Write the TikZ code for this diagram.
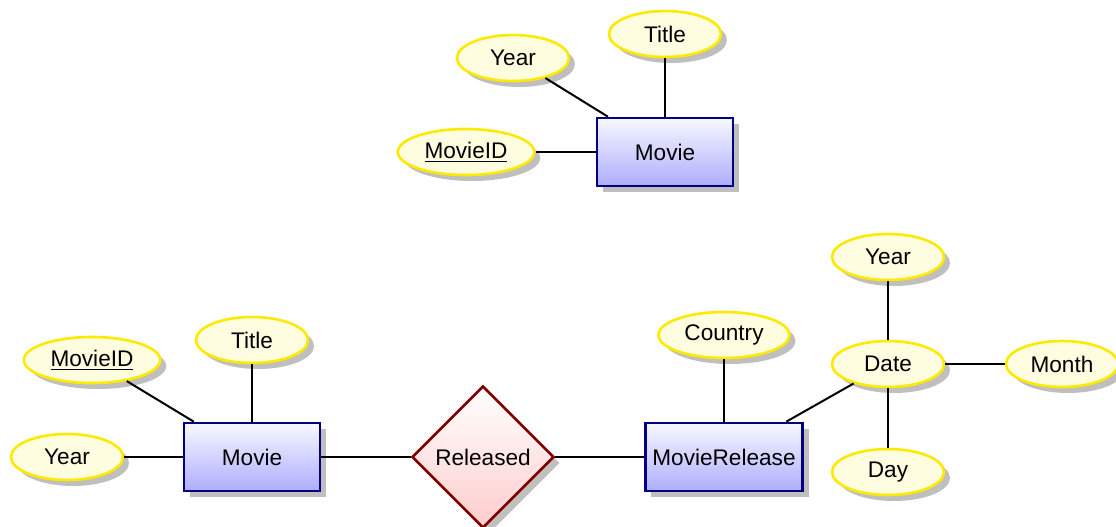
\documentclass[tikz,border=0pt]{standalone}
\usepackage{fontspec}
\setmainfont{Liberation Sans}
\usetikzlibrary{shapes.geometric,shadows}

\begin{document}
\begin{tikzpicture}[x=0.5pt,y=-0.5pt,font=\fontsize{11.3}{13}\selectfont,
  entity/.style={draw=blue!50!black,line width=1.3pt,top color=blue!3,bottom color=blue!32,
    minimum width=68pt,minimum height=34pt,inner xsep=3.5pt,
    drop shadow={shadow xshift=3pt,shadow yshift=-3pt,fill=black!25,opacity=1}},
  attr/.style={ellipse,draw=yellow!92!orange,line width=1.3pt,fill=yellow!12,
    minimum width=56pt,minimum height=23pt,inner xsep=3.4pt,inner ysep=1pt,
    drop shadow={shadow xshift=3pt,shadow yshift=-3pt,fill=black!25,opacity=1}},
  rel/.style={diamond,aspect=1,draw=red!50!black,line width=1.3pt,top color=white,bottom color=red!20,
    minimum width=71pt,minimum height=71pt,inner sep=0pt,
    drop shadow={shadow xshift=3pt,shadow yshift=-3pt,fill=black!25,opacity=1}}]
\useasboundingbox (0,0) rectangle (1116,526);
% upper diagram
\node[entity] (m) at (665,152) {Movie};
\node[attr] (mt) at (665,34) {Title};
\node[attr] (my) at (513,58) {Year};
\node[attr] (mi) at (466,152) {\underline{MovieID}};
% lower diagram
\node[entity] (a) at (252,457) {Movie};
\node[attr] (ai) at (92,360) {\underline{MovieID}};
\node[attr] (at) at (252,340) {Title};
\node[attr] (ay) at (67,457) {Year};
\node[rel] (r) at (483,457) {Released};
\node[entity] (b) at (724,457) {MovieRelease};
\node[attr] (bc) at (724,335) {Country};
\node[attr] (d) at (888,364) {Date};
\node[attr] (dy) at (888,257) {Year};
\node[attr] (dm) at (1062,364) {Month};
\node[attr] (dd) at (888,472) {Day};
\path[line width=1pt]
(m) edge (mt)
(m) edge (my)
(m) edge (mi)
(a) edge (ai)
(a) edge (at)
(a) edge (ay)
(a) edge (r)
(r) edge (b)
(b) edge (bc)
(b) edge (d)
(d) edge (dy)
(d) edge (dm)
(d) edge (dd)
;
\end{tikzpicture}
\end{document}
